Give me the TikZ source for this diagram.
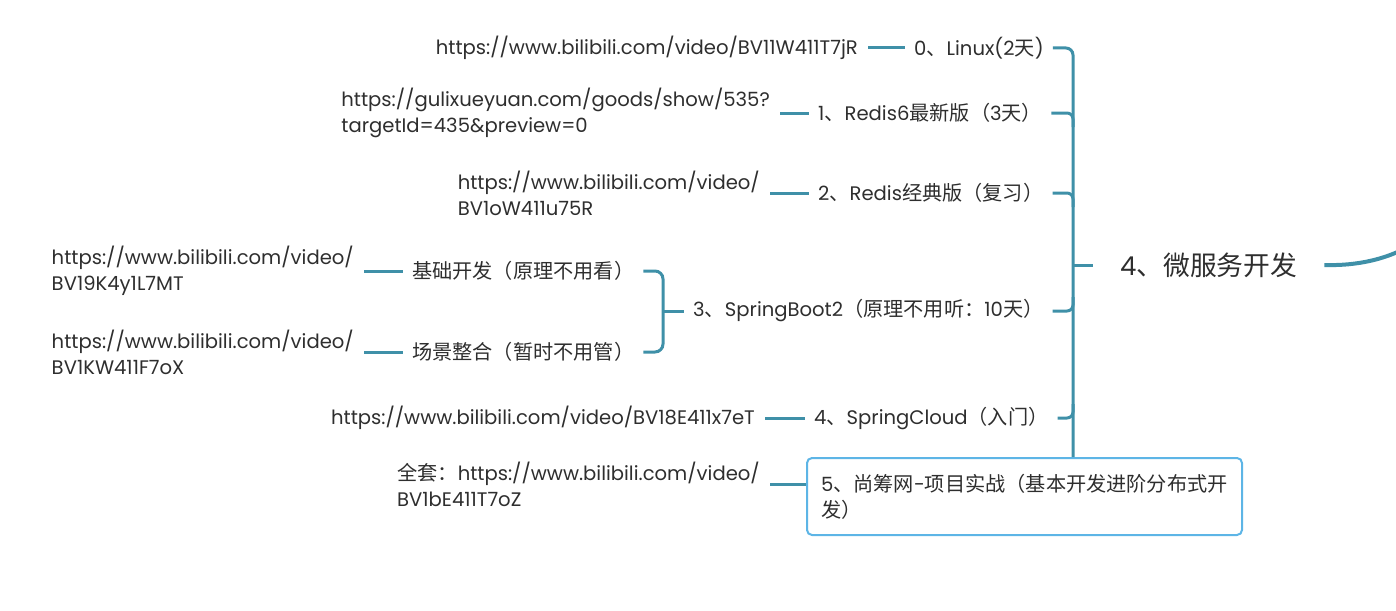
\documentclass[tikz,border=0pt]{standalone}
\usepackage{fontspec}
\setmainfont{Poppins}
\newfontfamily\zh[Scale=1.03]{Noto Sans CJK SC}
\usetikzlibrary{positioning}
\definecolor{branch}{HTML}{3F90A8}
\definecolor{txt}{HTML}{2E2E2E}
\definecolor{sel}{HTML}{5DB5E6}
\tikzstyle{topic}=[anchor=west,inner xsep=27pt,text=txt,font=\fontsize{26}{30}\selectfont]
\tikzstyle{sub}=[anchor=west,inner xsep=9pt,inner ysep=2pt,text=txt,font=\fontsize{19.6}{26}\selectfont]
\tikzstyle{link}=[align=left,inner xsep=10pt,inner ysep=2pt,text=txt,font=\fontsize{19.6}{26}\selectfont]
\tikzstyle{box}=[sub,align=left,draw=sel,line width=2pt,rounded corners=5pt,fill=white,text width=407pt,inner xsep=14pt,minimum height=77pt]
\tikzstyle{conn}=[draw=branch,line width=3pt]

\begin{document}
\begin{tikzpicture}[x=1pt,y=-1pt]
\useasboundingbox (0,0) rectangle (1396,610);
\coordinate (spine) at (1073,265);
\coordinate (spine2) at (663,311);
\coordinate (out) at (1402,250);
\node[topic] (T) at (1093,265) {4{\zh 、微服务开发}};
\node[sub] (c0) at (905,48) {0{\zh 、}Linux(2{\zh 天})};
\node[sub] (c1) at (809,113) {1{\zh 、}Redis6{\zh 最新版（}3{\zh 天）}};
\node[sub] (c2) at (809,193) {2{\zh 、}Redis{\zh 经典版（复习）}};
\node[sub] (c3) at (684,311) {3{\zh 、}SpringBoot2{\zh （原理不用听：}10{\zh 天）}};
\node[sub] (c4) at (805,418) {4{\zh 、}SpringCloud{\zh （入门）}};
\node[box] (c5) at (806,496.5) {5{\zh 、尚筹网}-{\zh 项目实战（基本开发进阶分布式开}\\{\zh 发）}};
\node[sub] (c31) at (403,271) {\zh 基础开发（原理不用看）};
\node[sub] (c32) at (403,352) {\zh 场景整合（暂时不用管）};
\node[link, left=37pt of c0] (u0) {https://www.bilibili.com/video/BV11W411T7jR};
\node[link, left=29pt of c1] (u1) {https://gulixueyuan.com/goods/show/535?\\targetId=435\&preview=0};
\node[link, left=39pt of c2] (u2) {https://www.bilibili.com/video/\\BV1oW411u75R};
\node[link, left=39pt of c31] (u31) {https://www.bilibili.com/video/\\BV19K4y1L7MT};
\node[link, left=39pt of c32] (u32) {https://www.bilibili.com/video/\\BV1KW411F7oX};
\node[link, left=40pt of c4] (u4) {https://www.bilibili.com/video/BV18E411x7eT};
\node[link, anchor=east] (u5) at (770,484) {{\zh 全套：}https://www.bilibili.com/video/\\BV1bE411T7oZ};
% main branch
\draw[conn, line width=4pt] (T.east) .. controls (1360,266) and (1385,258) .. (out);
\draw[conn] (T.west -| spine) -- (T.west);
\draw[conn, rounded corners=7pt] (c0.east) -| (c5.north -| spine);
\draw[conn, rounded corners=6pt] (c1.east) -- (c1.east -| spine) -- ++(0,14);
\draw[conn, rounded corners=6pt] (c2.east) -- (c2.east -| spine) -- ++(0,14);
\draw[conn, rounded corners=6pt] (c3.east) -- (c3.east -| spine) -- ++(0,-14);
\draw[conn, rounded corners=6pt] (c4.east) -- (c4.east -| spine) -- ++(0,-14);
% springboot children
\draw[conn, rounded corners=8pt] (c31.east) -| (c32.east -| spine2) -- (c32.east);
\draw[conn] (c3.west -| spine2) -- (c3.west);
% links
\draw[conn] (u0) -- (c0);
\draw[conn] (u1) -- (c1);
\draw[conn] (u2) -- (c2);
\draw[conn] (u31) -- (c31);
\draw[conn] (u32) -- (c32);
\draw[conn] (u4) -- (c4);
\draw[conn] (u5.east) -- (u5.east -| c5.west);
\end{tikzpicture}
\end{document}
